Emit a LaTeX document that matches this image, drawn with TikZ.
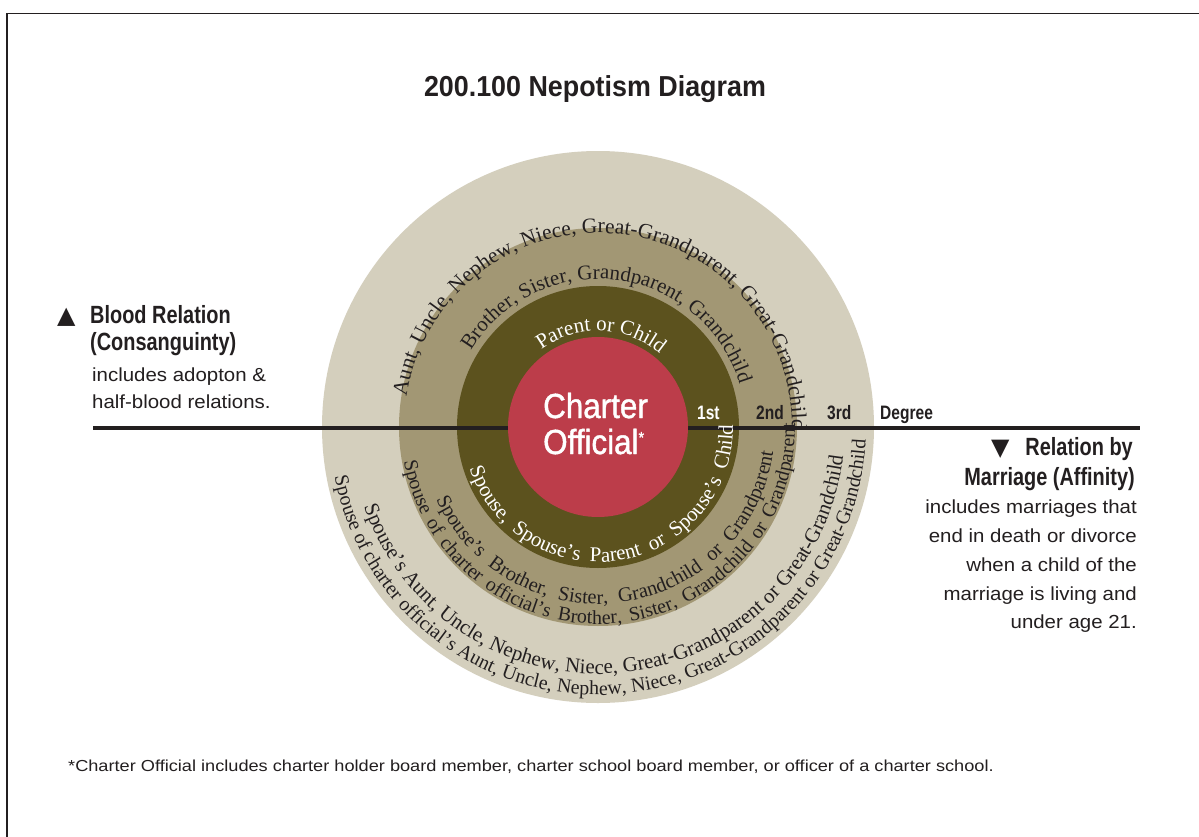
\documentclass[tikz,border=0pt]{standalone}
\usepackage{fontspec}
\setmainfont{Liberation Sans}
\newfontfamily\titlef[FakeStretch=0.93]{Liberation Sans}
\newfontfamily\condf[FakeStretch=0.8]{Liberation Sans}
\newfontfamily\coref[FakeStretch=0.9,FakeBold=1.2]{Liberation Sans}
\newfontfamily\bodyf[FakeStretch=1.08]{Liberation Sans}
\newfontfamily\footf[FakeStretch=1.14]{Liberation Sans}
\newfontfamily\serf{Liberation Serif}
\newfontfamily\symf{DejaVu Sans}
\usetikzlibrary{decorations.text}
\definecolor{ringA}{HTML}{D4CFBD}
\definecolor{ringB}{HTML}{A29774}
\definecolor{ringC}{HTML}{5C521E}
\definecolor{core}{HTML}{BC3D4A}
\definecolor{ink}{HTML}{231F20}
\tikzset{
  lbl/.style={inner sep=0pt, text=ink},
  headtxt/.style={lbl, font=\condf\bfseries\fontsize{25}{25}\selectfont},
  bodytxt/.style={lbl, font=\bodyf\fontsize{19}{19}\selectfont},
  degtxt/.style={lbl, anchor=base west, font=\condf\bfseries\fontsize{19.5}{19.5}\selectfont},
  arctext/.style={decorate, decoration={text along path, text align=center, text={#1}}},
  arcfit/.style={decorate, decoration={text along path, text align=fit to path stretching spaces, text={#1}}}
}
\begin{document}
\begin{tikzpicture}[x=1bp,y=1bp]
\useasboundingbox[fill=white] (0,0) rectangle (1199,-837);
% frame
\draw[line width=1.3pt, ink] (7,-837) -- (7,-13.5) -- (1199,-13.5);
% title
\node[lbl, anchor=base, font=\titlef\bfseries\fontsize{29}{29}\selectfont] (title) at (595,-96) {200.100 Nepotism Diagram};
% rings
\coordinate (C) at (598,-427);
\fill[ringA] (C) circle[radius=276];
\fill[ringB] (C) circle[radius=199];
\fill[ringC] (C) circle[radius=141];
% degree line
\coordinate (lineL) at (93,-428);
\coordinate (lineR) at (1140,-428);
\draw[line width=4, ink] (lineL) -- (lineR);
% core
\fill[core] (C) circle[radius=90];
\node[lbl, anchor=base west, text=white, font=\coref\fontsize{35}{35}\selectfont] (charter) at (543,-418) {Charter};
\node[lbl, anchor=base west, text=white, font=\coref\fontsize{35}{35}\selectfont] (official) at (543,-454) {Official\raisebox{11bp}{\fontsize{16}{16}\selectfont*}};
% blood relation (top) arc texts
\path[arctext={|\serf\fontsize{21}{21}\selectfont\color{white}|Parent or Child}]
  (C) ++(188:96) arc[start angle=188, end angle=-12, radius=96];
\path[arctext={|\serf\fontsize{21}{21}\selectfont\color{ink}|Brother, Sister, Grandparent, Grandchild}]
  (C) ++(183:148) arc[start angle=183, end angle=-17, radius=148];
\path[arctext={|\serf\fontsize{21.5}{21.5}\selectfont\color{ink}|Aunt, Uncle, Nephew, Niece, Great-Grandparent, Great-Grandchild}]
  (C) ++(185:194) arc[start angle=185, end angle=-15, radius=194];
% marriage (bottom) arc texts
\path[arcfit={|\serf\fontsize{21}{21}\selectfont\color{white}|Spouse, Spouse’s Parent or Spouse’s Child}]
  (C) ++(198:135) arc[start angle=198, end angle=361, radius=135];
\path[arcfit={|\serf\fontsize{20.5}{20.5}\selectfont\color{ink}|Spouse’s Brother, Sister, Grandchild or Grandparent}]
  (C) ++(204:177) arc[start angle=204, end angle=352, radius=177];
\path[arcfit={|\serf\fontsize{20}{20}\selectfont\color{ink}|Spouse of charter official’s Brother, Sister, Grandchild or Grandparent}]
  (C) ++(190:197) arc[start angle=190, end angle=361, radius=197];
\path[arctext={|\serf\fontsize{21}{21}\selectfont\color{ink}|Spouse’s Aunt, Uncle, Nephew, Niece, Great-Grandparent or Great-Grandchild}]
  (C) ++(176:247) arc[start angle=176, end angle=376, radius=247];
\path[arctext={|\serf\fontsize{20}{20}\selectfont\color{ink}|Spouse of charter official’s Aunt, Uncle, Nephew, Niece, Great-Grandparent or Great-Grandchild}]
  (C) ++(174:268) arc[start angle=174, end angle=374, radius=268];
% degree labels
\node[degtxt, text=white] (d1) at (697,-419) {1st};
\node[degtxt] (d2) at (756,-419) {2nd};
\node[degtxt] (d3) at (827,-419) {3rd};
\node[degtxt] (deg) at (880,-419) {Degree};
% left block
\node[lbl, anchor=base west, font=\symf\fontsize{24}{24}\selectfont] (triup) at (57,-323) {▲};
\node[headtxt, anchor=base west] (blood) at (90,-323) {Blood Relation};
\node[headtxt, anchor=base west] (consang) at (90,-350) {(Consanguinty)};
\node[bodytxt, anchor=base west] (adopt) at (92,-381) {includes adopton \&};
\node[bodytxt, anchor=base west] (half) at (92,-408) {half-blood relations.};
% right block
\node[lbl, anchor=base west, font=\symf\fontsize{24}{24}\selectfont] (tridown) at (991,-455) {▼};
\node[headtxt, anchor=base east] (relby) at (1133,-455) {Relation by};
\node[headtxt, anchor=base east] (marr) at (1135,-485) {Marriage (Affinity)};
\node[bodytxt, anchor=base east] (m1) at (1137,-513) {includes marriages that};
\node[bodytxt, anchor=base east] (m2) at (1137,-542) {end in death or divorce};
\node[bodytxt, anchor=base east] (m3) at (1137,-571) {when a child of the};
\node[bodytxt, anchor=base east] (m4) at (1137,-600) {marriage is living and};
\node[bodytxt, anchor=base east] (m5) at (1137,-628) {under age 21.};
% footnote
\node[lbl, anchor=base west, font=\footf\fontsize{16}{16}\selectfont] (foot) at (68,-771) {*Charter Official includes charter holder board member, charter school board member, or officer of a charter school.};
\end{tikzpicture}
\end{document}
